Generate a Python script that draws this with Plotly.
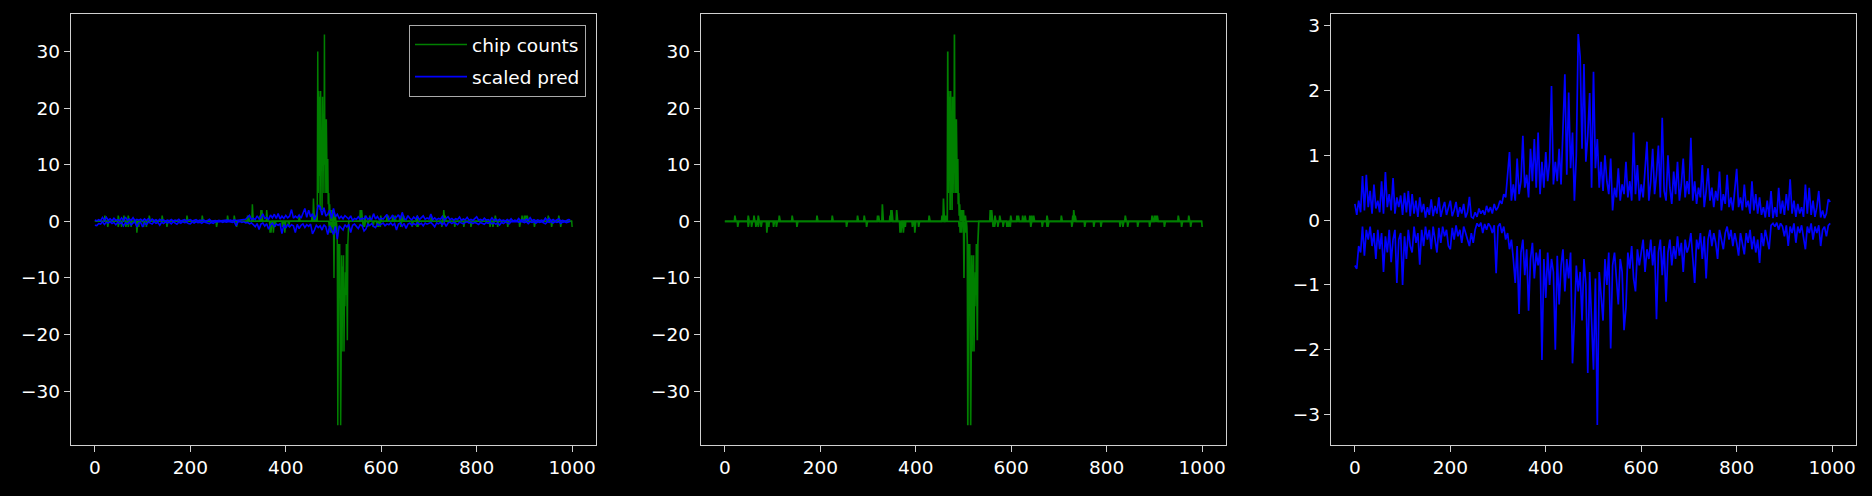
import plotly.graph_objects as go

# ---------------- data ----------------
pred_x = list(range(0, 1000, 4))

pred_upper = [
    0.25, 0.08, 0.3, 0.12, 0.68, 0.15, 0.7, 0.2, 0.45, 0.1, 0.55, 0.18, 0.3, 0.12, 0.6, 0.1, 0.74, 0.2, 0.4, 0.15, 0.65, 0.1, 0.35, 0.2, 0.38,
    0.08, 0.42, 0.12, 0.45, 0.06, 0.4, 0.1, 0.3, 0.05, 0.35, 0.12, 0.25, 0.04, 0.2, 0.08, 0.32, 0.06, 0.22, 0.1, 0.35, 0.05, 0.18, 0.28, 0.08, 0.2,
    0.3, 0.06, 0.15, 0.28, 0.05, 0.2, 0.1, 0.25, 0.04, 0.12, 0.36, 0.05, 0.03, 0.12, 0.05, 0.18, 0.1, 0.15, 0.08, 0.22, 0.12, 0.2, 0.1, 0.25, 0.15,
    0.2, 0.3, 0.25, 0.4, 0.35, 0.7, 1.05, 0.3, 0.55, 0.3, 0.95, 0.4, 0.6, 1.3, 0.5, 0.7, 0.35, 1.1, 0.6, 1.25, 0.5, 1.35, 0.4, 0.9, 0.5,
    1.05, 0.6, 0.9, 2.07, 0.55, 0.9, 0.6, 1.1, 0.55, 1.45, 2.25, 0.7, 1.97, 0.8, 1.35, 0.3, 1.0, 2.87, 2.52, 1.1, 2.41, 0.9, 1.3, 1.96, 0.5,
    2.29, 0.8, 1.25, 0.5, 0.9, 0.45, 1.0, 0.6, 0.4, 0.95, 0.15, 0.5, 0.35, 0.8, 0.3, 0.55, 0.4, 0.9, 0.35, 0.6, 0.3, 1.35, 0.4, 0.85, 0.3,
    0.55, 0.35, 0.8, 1.21, 0.3, 0.6, 1.1, 0.4, 0.7, 1.15, 0.35, 1.58, 0.45, 0.3, 1.0, 0.5, 0.25, 0.75, 0.4, 0.9, 0.3, 0.55, 0.95, 0.35, 0.6,
    0.4, 1.27, 0.3, 0.6, 0.25, 0.5, 0.35, 0.85, 0.2, 0.45, 0.8, 0.3, 0.5, 0.2, 0.45, 0.3, 0.75, 0.15, 0.4, 0.25, 0.7, 0.2, 0.35, 0.15, 0.5,
    0.79, 0.2, 0.35, 0.15, 0.55, 0.2, 0.3, 0.1, 0.6, 0.15, 0.4, 0.1, 0.35, 0.08, 0.2, 0.04, 0.3, 0.05, 0.45, 0.03, 0.2, 0.05, 0.5, 0.1, 0.3,
    0.08, 0.4, 0.15, 0.63, 0.1, 0.3, 0.05, 0.25, 0.1, 0.2, 0.05, 0.55, 0.1, 0.5, 0.08, 0.3, 0.05, 0.2, 0.45, 0.04, 0.15, 0.03, 0.1, 0.32, 0.28,
]

pred_lower = [
    -0.7, -0.75, -0.4, -0.5, -0.1, -0.55, -0.15, -0.3, -0.1, -0.4, -0.2, -0.6, -0.15, -0.45, -0.2, -0.8, -0.25, -0.5, -0.15, -0.65, -0.3, -0.15, -0.97, -0.3, -0.2,
    -1.0, -0.25, -0.6, -0.15, -0.4, -0.5, -0.1, -0.35, -0.2, -0.69, -0.15, -0.4, -0.1, -0.3, -0.15, -0.45, -0.1, -0.3, -0.5, -0.12, -0.35, -0.1, -0.25, -0.15, -0.4,
    -0.45, -0.12, -0.3, -0.08, -0.25, -0.15, -0.35, -0.1, -0.2, -0.3, -0.4, -0.2, -0.35, -0.15, -0.05, -0.1, -0.04, -0.2, -0.06, -0.15, -0.05, -0.1, -0.2, -0.08, -0.82,
    -0.1, -0.05, -0.2, -0.1, -0.3, -0.2, -0.45, -0.3, -0.6, -0.97, -0.4, -1.45, -0.5, -0.3, -0.85, -0.45, -1.4, -0.6, -0.35, -0.9, -0.5, -0.7, -0.45, -2.16, -0.6,
    -1.2, -0.5, -1.0, -0.6, -0.8, -2.0, -0.55, -1.3, -0.7, -0.45, -1.1, -0.6, -0.9, -0.5, -2.21, -1.55, -0.7, -1.1, -0.8, -1.55, -0.6, -1.0, -2.36, -0.8, -1.5,
    -2.31, -0.9, -3.16, -0.8, -1.2, -1.55, -0.6, -1.0, -0.5, -1.98, -0.7, -0.5, -0.9, -1.3, -0.6, -0.8, -1.7, -1.35, -0.5, -0.75, -0.4, -0.9, -1.1, -0.45, -0.7,
    -0.5, -0.3, -0.8, -0.45, -0.6, -0.3, -0.7, -0.4, -1.53, -0.5, -0.3, -0.85, -0.4, -1.26, -0.5, -0.3, -0.7, -0.4, -0.6, -0.25, -0.55, -0.35, -0.8, -0.3, -0.5,
    -0.4, -0.2, -0.55, -0.97, -0.3, -0.45, -0.2, -0.6, -0.25, -0.9, -0.3, -0.15, -0.4, -0.2, -0.35, -0.6, -0.15, -0.3, -0.45, -0.2, -0.1, -0.3, -0.15, -0.4, -0.2,
    -0.35, -0.55, -0.2, -0.4, -0.53, -0.2, -0.35, -0.15, -0.45, -0.25, -0.5, -0.3, -0.66, -0.2, -0.4, -0.15, -0.3, -0.45, -0.08, -0.05, -0.1, -0.04, -0.15, -0.05, -0.1,
    -0.25, -0.08, -0.4, -0.1, -0.2, -0.05, -0.35, -0.1, -0.2, -0.08, -0.3, -0.45, -0.1, -0.2, -0.05, -0.3, -0.1, -0.2, -0.08, -0.4, -0.15, -0.1, -0.25, -0.08, -0.05,
]

counts_pos_idx = [21, 49, 61, 70, 114, 141, 193, 225, 278, 292, 320, 322, 330, 346, 348, 350, 360, 428, 455, 458, 462,
                  464, 465, 467, 468, 469, 470, 471, 472, 473, 474, 475, 476, 477, 478, 479, 480, 481, 482, 483, 484,
                  485, 486, 487, 488, 489, 490, 491, 492, 494, 495, 497, 498, 500, 502, 504,
                  556, 559, 566, 576, 599, 612, 615, 624, 629, 639, 643, 647, 675, 705, 729, 731, 734, 839,
                  895, 900, 903, 906, 950, 972]
counts_pos_val = [1, 1, 1, 1, 1, 1, 1, 1, 1, 1, 1, 1, 3, 1, 2, 2, 2, 1, 1, 4, 1,
                  1, 1, 30, 5, 23, 8, 22, 2, 23, 10, 16, 2, 22, 12, 16, 5, 33, 10, 18, 5,
                  18, 11, 5, 11, 3, 5, 1, 3, 1, 2, 1, 2, 2, 1, 1,
                  2, 2, 1, 1, 1, 1, 1, 1, 1, 1, 1, 1, 1, 1, 1, 2, 1, 1,
                  1, 1, 1, 1, 1, 1]

counts_neg_idx = [27, 49, 56, 65, 70, 76, 88, 92, 102, 108, 151, 255, 297, 367, 369, 374, 378, 393, 398, 406,
                  491, 493, 495, 496, 498, 501, 503, 505, 507, 508, 509, 510, 511, 512, 513, 514, 515, 516, 517,
                  518, 519, 520, 521, 522, 523, 524, 525, 526, 527, 528, 529, 530, 531,
                  562, 565, 572, 583, 591, 594, 598, 641, 665, 675, 677, 727, 754, 773, 788, 828, 834, 844,
                  865, 890, 921, 957, 976, 1000]
counts_neg_val = [-1, -1, -1, -1, -1, -1, -2, -1, -1, -1, -1, -1, -1, -2, -2, -2, -1, -1, -2, -1,
                  -1, -2, -1, -2, -1, -10, -1, -2, -1, -4, -36, -20, -4, -10, -4, -18, -36, -25, -6,
                  -23, -8, -12, -6, -23, -13, -15, -9, -13, -4, -15, -21, -4, -1,
                  -1, -1, -1, -1, -1, -1, -1, -1, -1, -1, -1, -1, -1, -1, -1, -1, -1, -1,
                  -1, -1, -1, -1, -1, -1]

x_ticks = [0, 200, 400, 600, 800, 1000]
y_ticks_counts = [-30, -20, -10, 0, 10, 20, 30]
y_ticks_pred = [-3, -2, -1, 0, 1, 2, 3]

# ---------------- build series ----------------
assert len(pred_upper) == len(pred_x) and len(pred_lower) == len(pred_x)
count_x = list(range(0, 1001))
pos = [0] * len(count_x)
neg = [0] * len(count_x)
for i, v in zip(counts_pos_idx, counts_pos_val):
    pos[i] = v
for i, v in zip(counts_neg_idx, counts_neg_val):
    neg[i] = v

cx = count_x + [None] + count_x
cy = pos + [None] + neg
px_ = pred_x + [None] + pred_x
py_ = pred_upper + [None] + pred_lower

GREEN = "#008000"
BLUE = "#0000ff"
W, H = 1872, 496

fig = go.Figure()
# panel 1
fig.add_trace(go.Scatter(x=cx, y=cy, mode="lines", line=dict(color=GREEN, width=1.5),
                         name="chip counts", legendgroup="a", xaxis="x", yaxis="y", showlegend=True))
fig.add_trace(go.Scatter(x=px_, y=py_, mode="lines", line=dict(color=BLUE, width=1.6),
                         name="scaled pred", legendgroup="b", xaxis="x", yaxis="y", showlegend=True))
# panel 2
fig.add_trace(go.Scatter(x=cx, y=cy, mode="lines", line=dict(color=GREEN, width=1.7),
                         name="chip counts", xaxis="x2", yaxis="y2", showlegend=False))
# panel 3
fig.add_trace(go.Scatter(x=px_, y=py_, mode="lines", line=dict(color=BLUE, width=1.7),
                         name="scaled pred", xaxis="x3", yaxis="y3", showlegend=False))

def minus(v):
    s = f"{v:g}"
    return s.replace("-", "\u2212")

font = dict(family="DejaVu Sans", size=18.5, color="#ffffff")
common_axis = dict(showgrid=False, zeroline=False, showline=True, mirror=True,
                   linecolor="#d0d0d0", linewidth=1.3, ticks="outside", ticklen=6,
                   tickwidth=1.3, tickcolor="#d0d0d0", tickfont=font, automargin=False)

ytop = 1 - 14 / H
ybot = 1 - 445 / H
doms = [(71, 596), (701, 1226), (1331, 1856)]

layout = dict(
    width=W, height=H,
    paper_bgcolor="#000000", plot_bgcolor="#000000",
    margin=dict(l=0, r=0, t=0, b=0),
    font=font,
    legend=dict(x=586 / W, y=1 - 25 / H, xanchor="right", yanchor="top",
                bgcolor="rgba(0,0,0,0.85)", bordercolor="#aaaaaa", borderwidth=1,
                font=dict(family="DejaVu Sans", size=18.5, color="#ffffff"),
                itemwidth=52, tracegroupgap=5),
)
for k, (l, r) in enumerate(doms):
    sx = "" if k == 0 else str(k + 1)
    yt = y_ticks_pred if k == 2 else y_ticks_counts
    yr = [-3.47, 3.18] if k == 2 else [-39.5, 36.6]
    layout["xaxis" + sx] = dict(common_axis, domain=[l / W, r / W], range=[-50, 1050],
                                tickvals=x_ticks, ticktext=[str(t) for t in x_ticks],
                                anchor="y" + sx)
    layout["yaxis" + sx] = dict(common_axis, domain=[ybot, ytop], range=yr,
                                tickvals=yt, ticktext=[minus(t) for t in yt],
                                anchor="x" + sx)

fig.update_layout(**layout)
fig.write_html(
    "out.html",
    config={"displayModeBar": False},
    post_script="document.body.style.margin='0';document.body.style.background='#000000';",
)
